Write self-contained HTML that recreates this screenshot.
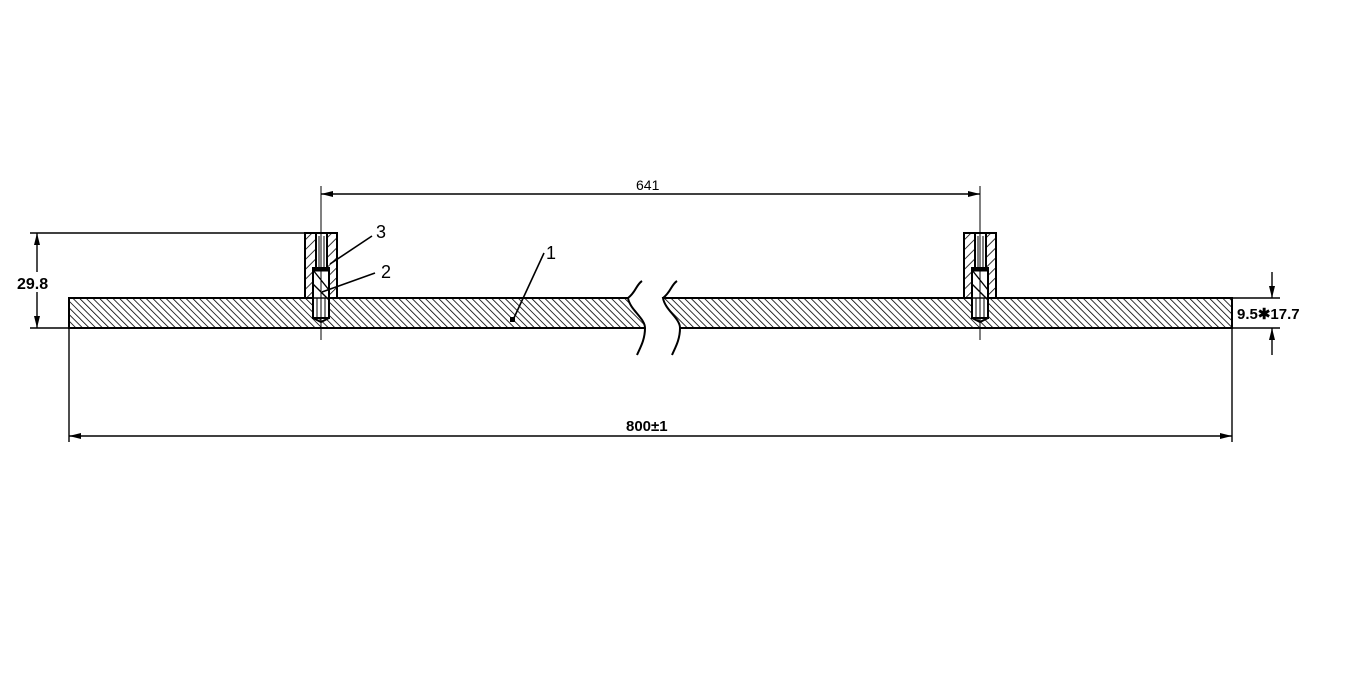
<!DOCTYPE html>
<html><head><style>html,body{margin:0;padding:0;background:#fff;width:1352px;height:700px;overflow:hidden}</style></head>
<body>
<svg width="1352" height="700" viewBox="0 0 1352 700" xmlns="http://www.w3.org/2000/svg" font-family="Liberation Sans, sans-serif">
<defs>
<pattern id="h" width="4.7" height="4.7" patternUnits="userSpaceOnUse" patternTransform="rotate(-45)">
<line x1="0" y1="0" x2="0" y2="4.7" stroke="#000" stroke-width="1.6"/>
</pattern>
<pattern id="h2" width="7" height="7" patternUnits="userSpaceOnUse" patternTransform="rotate(45)">
<line x1="0" y1="0" x2="0" y2="7" stroke="#000" stroke-width="1.6"/>
</pattern>
<marker id="a" markerWidth="12" markerHeight="6" refX="12" refY="3" orient="auto-start-reverse" markerUnits="userSpaceOnUse"><path d="M0,0 L12,3 L0,6 Z" fill="#000"/></marker>
</defs>
<g stroke="#000" fill="none" stroke-width="2">
<path d="M69,298 L628,298 C630,310 645,318 645,328 L69,328 Z" fill="url(#h)"/>
<path d="M628,298 C636,292 636,285 642,281 M645,328 C645,340 640,348 637,355" />
<path d="M663,298 L1232,298 L1232,328 L680,328 C680,318 665,310 663,298 Z" fill="url(#h)"/>
<path d="M663,298 C671,292 671,285 677,281 M680,328 C680,340 675,348 672,355"/>
<g id="sp">
<rect x="305" y="233" width="32" height="65" fill="url(#h2)"/>
<rect x="316" y="233" width="11" height="35" fill="#fff"/>
<line x1="319" y1="236" x2="319" y2="268" stroke-width="1"/>
<line x1="324" y1="236" x2="324" y2="268" stroke-width="1"/>
<rect x="313" y="268" width="16" height="50" fill="#fff"/>
<path d="M313,270 L329,290 M313,284 L329,300" stroke-width="1.4"/>
<line x1="313" y1="270" x2="329" y2="270" stroke-width="3"/>
<line x1="313" y1="298" x2="329" y2="298" stroke-width="1.4"/>
<line x1="317" y1="298" x2="317" y2="318" stroke-width="1"/>
<line x1="325" y1="298" x2="325" y2="318" stroke-width="1"/>
<path d="M313,318 L321,322 L329,318" />
</g>
<use href="#sp" transform="translate(659,0)"/>
<line x1="321" y1="186" x2="321" y2="340" stroke-width="1"/>
<line x1="980" y1="186" x2="980" y2="340" stroke-width="1"/>
<line x1="321" y1="194" x2="980" y2="194" stroke-width="1.4" marker-end="url(#a)" marker-start="url(#a)"/>
<line x1="30" y1="233" x2="305" y2="233" stroke-width="1.4"/>
<line x1="30" y1="328" x2="69" y2="328" stroke-width="1.4"/>
<line x1="37" y1="233" x2="37" y2="328" stroke-width="1.4" marker-start="url(#a)" marker-end="url(#a)"/>
<line x1="69" y1="328" x2="69" y2="442" stroke-width="1.4"/>
<line x1="1232" y1="328" x2="1232" y2="442" stroke-width="1.4"/>
<line x1="69" y1="436" x2="1232" y2="436" stroke-width="1.4" marker-start="url(#a)" marker-end="url(#a)"/>
<line x1="1232" y1="298" x2="1280" y2="298" stroke-width="1.4"/>
<line x1="1232" y1="328" x2="1280" y2="328" stroke-width="1.4"/>
<line x1="1272" y1="272" x2="1272" y2="298" stroke-width="1.4" marker-end="url(#a)"/>
<line x1="1272" y1="355" x2="1272" y2="328" stroke-width="1.4" marker-end="url(#a)"/>
<line x1="330" y1="264" x2="372" y2="236" stroke-width="1.6"/>
<line x1="322" y1="292" x2="375" y2="273" stroke-width="1.6"/>
<line x1="513" y1="320" x2="544" y2="253" stroke-width="1.6"/>
</g>
<rect x="510" y="317" width="5" height="5" fill="#000"/>
<rect x="16" y="272" width="42" height="20" fill="#fff"/>
<g fill="#000" font-size="16">
<text x="636" y="190" font-size="14">641</text>
<text x="626" y="431" font-size="15" font-weight="bold">800±1</text>
<text x="17" y="289" font-size="16" font-weight="bold">29.8</text>
<text x="1237" y="319" font-size="15" font-weight="bold">9.5✱17.7</text>
<text x="376" y="238" font-size="18">3</text>
<text x="381" y="278" font-size="18">2</text>
<text x="546" y="259" font-size="18">1</text>
</g>
</svg>
</body></html>
